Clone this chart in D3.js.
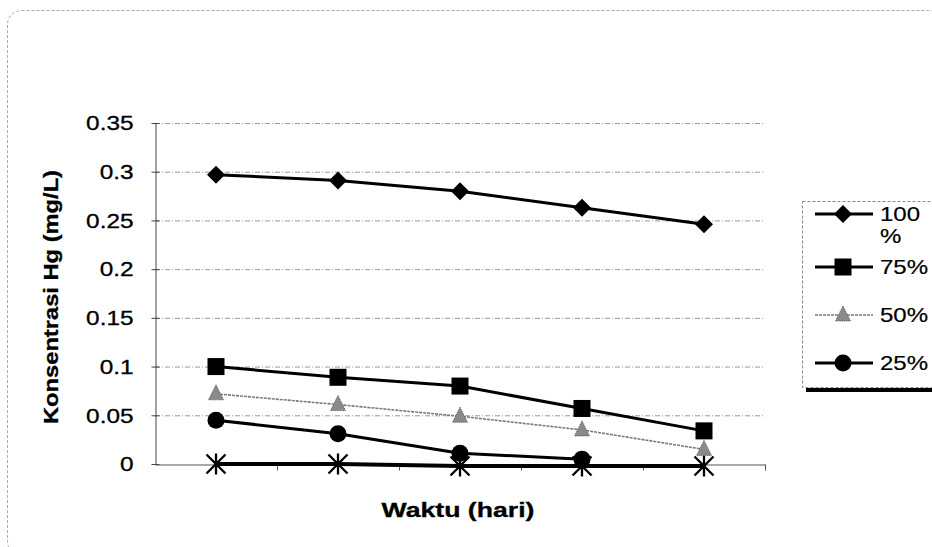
<!DOCTYPE html>
<html>
<head>
<meta charset="utf-8">
<script src="https://cdn.jsdelivr.net/npm/d3@7"></script>
<style>
  html, body { margin: 0; padding: 0; background: #fff; }
  svg { display: block; }
  text { font-family: "Liberation Sans", Arial, sans-serif; fill: #000; }
</style>
</head>
<body>
<svg id="chart" width="932" height="547"></svg>
<script>
// ---- data ----
const days = ["1", "2", "3", "4", "5"];
const yTicks = [0, 0.05, 0.1, 0.15, 0.2, 0.25, 0.3, 0.35];
const s100 = [0.297, 0.291, 0.280, 0.263, 0.246];
const s75  = [0.100, 0.089, 0.080, 0.057, 0.034];
const s50  = [0.072, 0.061, 0.049, 0.035, 0.015];
const s25  = [0.045, 0.031, 0.011, 0.005, null];
const s0   = [0.000, 0.000, -0.002, -0.002, -0.002];
const seriesNames = ["100 %", "75%", "50%", "25%", "0%"];
const yTitle = "Konsentrasi Hg (mg/L)";
const xTitle = "Waktu (hari)";

const series = [
  { name: seriesNames[0], values: s100, marker: "diamond",  color: "#000", width: 3, legend: true },
  { name: seriesNames[1], values: s75,  marker: "square",   color: "#000", width: 3, legend: true },
  { name: seriesNames[2], values: s50,  marker: "triangle", color: "#7a7a7a", width: 1.6, dash: "3,1", legend: true },
  { name: seriesNames[3], values: s25,  marker: "circle",   color: "#000", width: 3, legend: true },
  { name: seriesNames[4], values: s0,   marker: "asterisk", color: "#000", width: 4, legend: false }
];

const svg = d3.select("#chart");
const L = 155, R = 765, T = 123, B = 464;

// outer chart border
svg.append("rect")
  .attr("x", 7.5).attr("y", 10.5).attr("width", 935).attr("height", 545)
  .attr("rx", 14)
  .attr("fill", "none").attr("stroke", "#aaa").attr("stroke-width", 1)
  .attr("stroke-dasharray", "3,2");

const x = d3.scaleBand().domain(days).range([L, R]).padding(0);
const xEdge = d3.scaleLinear().domain([0, days.length]).range([L, R]);
const y = d3.scaleLinear().domain([0, 0.35]).range([B, T]);
const cx = d => x(d) + x.bandwidth() / 2;

// gridlines
svg.append("g")
  .selectAll("line")
  .data(yTicks.filter(v => v > 0))
  .join("line")
  .attr("x1", L).attr("x2", R)
  .attr("y1", d => y(d) + 0.5).attr("y2", d => y(d) + 0.5)
  .attr("stroke", "#999").attr("stroke-width", 1)
  .attr("stroke-dasharray", "5,2,1,2");

// y axis
const yAxis = svg.append("g")
  .attr("transform", `translate(${L + 0.5},0)`)
  .call(d3.axisLeft(y).tickValues(yTicks).tickFormat(d => String(d)).tickSize(4).tickSizeOuter(0));
yAxis.select(".domain").attr("stroke", "#444").attr("stroke-width", 1);
yAxis.selectAll(".tick line").attr("stroke", "#444").attr("x2", -4).attr("x1", 4);
yAxis.selectAll(".tick text")
  .attr("font-size", 19.5)
  .attr("font-family", "Liberation Sans, Arial, sans-serif")
  .attr("fill", "#000")
  .attr("stroke", "#000").attr("stroke-width", 0.3)
  .attr("dy", "0.35em")
  .attr("x", -22 / 1.25)
  .attr("transform", "scale(1.25,1)");

// x axis (ticks at category boundaries, no labels)
const xAxis = svg.append("g")
  .attr("transform", `translate(0,${B + 0.5})`)
  .call(d3.axisBottom(xEdge).tickValues(d3.range(1, days.length + 1)).tickFormat("").tickSize(6).tickSizeOuter(0));
xAxis.select(".domain").attr("stroke", "#555").attr("stroke-width", 1.2);
xAxis.selectAll(".tick line").attr("stroke", "#555");

// markers
function drawMarker(g, type, px, py, color) {
  if (type === "diamond") {
    g.append("path").attr("d", `M${px},${py - 9}L${px + 9},${py}L${px},${py + 9}L${px - 9},${py}Z`).attr("fill", color);
  } else if (type === "square") {
    g.append("rect").attr("x", px - 8.5).attr("y", py - 8.5).attr("width", 17).attr("height", 17).attr("fill", color);
  } else if (type === "triangle") {
    g.append("path").attr("d", `M${px},${py - 9}L${px + 7.5},${py + 6}L${px - 7.5},${py + 6}Z`)
      .attr("fill", "#8a8a8a").attr("stroke", "#555").attr("stroke-width", 1).attr("stroke-dasharray", "1,1");
  } else if (type === "circle") {
    g.append("circle").attr("cx", px).attr("cy", py).attr("r", 8.5).attr("fill", color);
  } else if (type === "asterisk") {
    const s = 9.5;
    g.append("path")
      .attr("d", `M${px - s},${py - s}L${px + s},${py + s}M${px - s},${py + s}L${px + s},${py - s}M${px},${py - s - 1}L${px},${py + s + 1}`)
      .attr("stroke", color).attr("stroke-width", 2.3).attr("fill", "none");
  }
}

const plot = svg.append("g");
series.slice().reverse().forEach(s => {
  const pts = days.map((d, i) => ({ d, v: s.values[i] })).filter(p => p.v !== null);
  const line = d3.line().x(p => cx(p.d)).y(p => y(p.v));
  plot.append("path")
    .attr("d", line(pts))
    .attr("fill", "none")
    .attr("stroke", s.color)
    .attr("stroke-width", s.width)
    .attr("stroke-dasharray", s.dash || null)
    .attr("stroke-linejoin", "round");
  const mg = plot.append("g");
  pts.forEach(p => drawMarker(mg, s.marker, cx(p.d), y(p.v), s.color));
});

// axis titles
svg.append("text")
  .attr("transform", `translate(58,297) rotate(-90)`)
  .attr("text-anchor", "middle")
  .attr("font-size", 19.5).attr("font-weight", "bold")
  .attr("stroke", "#000").attr("stroke-width", 0.3)
  .attr("textLength", 254).attr("lengthAdjust", "spacingAndGlyphs")
  .text(yTitle);

svg.append("text")
  .attr("x", 458).attr("y", 517)
  .attr("text-anchor", "middle")
  .attr("font-size", 19.5).attr("font-weight", "bold")
  .attr("stroke", "#000").attr("stroke-width", 0.3)
  .attr("textLength", 153).attr("lengthAdjust", "spacingAndGlyphs")
  .text(xTitle);

// legend
const lg = svg.append("g");
lg.append("rect").attr("x", 806).attr("y", 388).attr("width", 140).attr("height", 4).attr("fill", "#000");
lg.append("rect").attr("x", 802.5).attr("y", 201.5).attr("width", 140).attr("height", 186)
  .attr("fill", "#fff").attr("stroke", "#888").attr("stroke-dasharray", "3,2");

const legendY = [214, 267, 315, 363];
series.filter(s => s.legend).forEach((s, i) => {
  const ly = legendY[i];
  lg.append("line").attr("x1", 815).attr("x2", 873).attr("y1", ly).attr("y2", ly)
    .attr("stroke", s.color).attr("stroke-width", s.width).attr("stroke-dasharray", s.dash || null);
  drawMarker(lg, s.marker, 843, ly, s.color);
  const parts = s.name.split(" ");
  parts.forEach((t, j) => {
    lg.append("text")
      .attr("x", 880 / 1.2).attr("y", ly + 7 + j * 22)
      .attr("transform", "scale(1.2,1)")
      .attr("font-size", 20)
      .attr("stroke", "#000").attr("stroke-width", 0.2)
      .text(t);
  });
});
</script>
</body>
</html>
